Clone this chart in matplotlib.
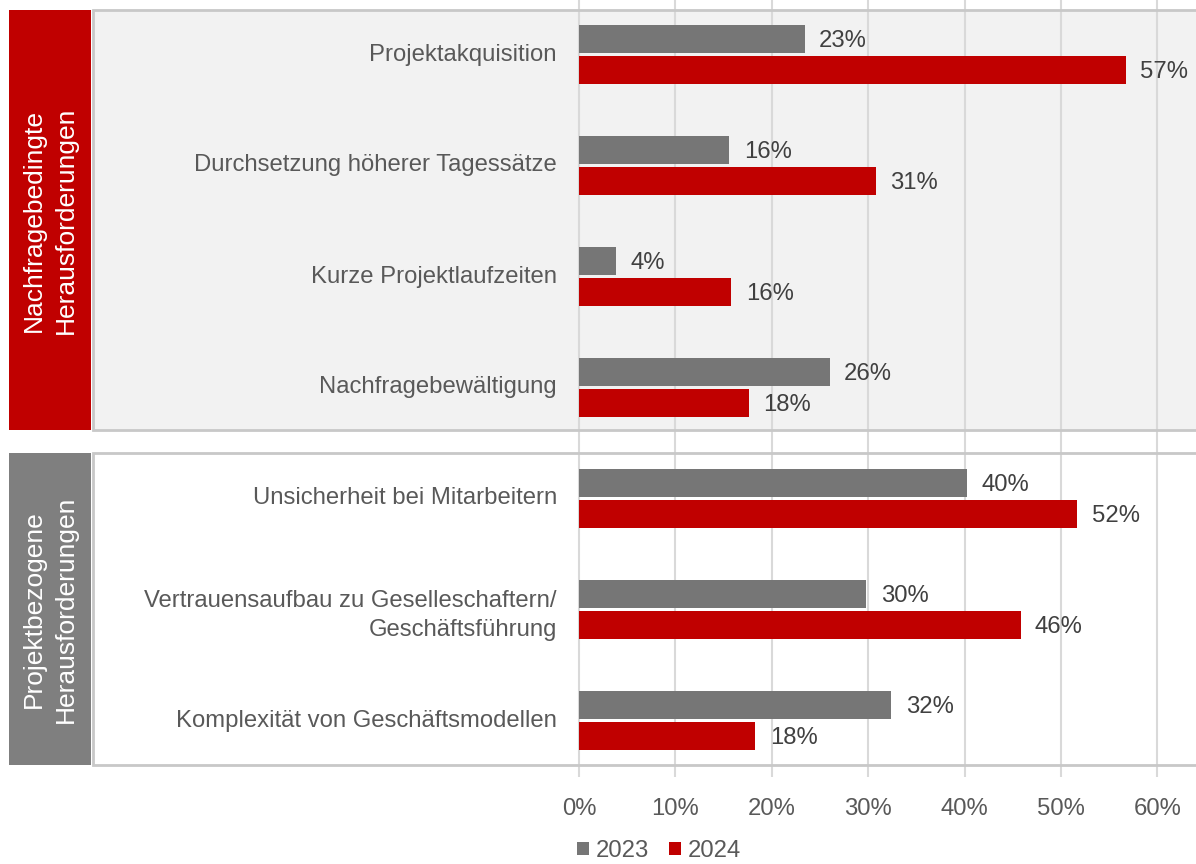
import matplotlib
matplotlib.use("Agg")
import matplotlib.pyplot as plt
from matplotlib.patches import Rectangle
import numpy as np

plt.rcParams['font.family'] = ['Liberation Sans', 'DejaVu Sans']

# Daten
kategorien = ["Projektakquisition",
              "Durchsetzung höherer Tagessätze",
              "Kurze Projektlaufzeiten",
              "Nachfragebewältigung",
              "Unsicherheit bei Mitarbeitern",
              "Vertrauensaufbau zu Geselleschaftern/\nGeschäftsführung",
              "Komplexität von Geschäftsmodellen"]
werte_2023 = [23.4, 15.6, 3.8, 26.0, 40.3, 29.8, 32.4]
werte_2024 = [56.7, 30.8, 15.8, 17.6, 51.7, 45.8, 18.3]
gruppen = ["Nachfragebedingte\nHerausforderungen", "Projektbezogene\nHerausforderungen"]
jahre = ["2023", "2024"]
ticks = [0, 10, 20, 30, 40, 50, 60]

ROT = "#c00000"
GRAU = "#767676"
GRID = "#d9d9d9"
RAND = "#c8c8c8"
FS = 17.2

W, H = 1196, 864
fig = plt.figure(figsize=(W / 100, H / 100), dpi=100)

# Achse: Pixelbereich x 93..1196, y 0..777 ; 0% liegt bei x=579, 10% = 96.4 px
px10 = 96.4
x0 = 579
ax_l, ax_r, ax_t, ax_b = 93, 1196, 0, 777
ax = fig.add_axes([ax_l / W, 1 - ax_b / H, (ax_r - ax_l) / W, (ax_b - ax_t) / H])
ax.set_xlim(-(x0 - ax_l) / px10 * 10, (ax_r - x0) / px10 * 10)

# y: Gruppenmitte i liegt bei 54.5 + 111*i px
def py(p):
    return (p - 54.5) / 111.0

ax.set_ylim(py(ax_b), py(ax_t))
for s in ax.spines.values():
    s.set_visible(False)
ax.set_facecolor("none")

# Panels (Hintergrund)
xl, xr = ax.get_xlim()
panels = [(10, 430, "#f2f2f2"), (453, 765, "white")]
for top, bot, fc in panels:
    ax.add_patch(Rectangle((xl, py(bot)), (xr - xl) + 5, py(top) - py(bot),
                           facecolor=fc, edgecolor="none", zorder=0, clip_on=False))

# Gitterlinien
for t in ticks:
    ax.plot([t, t], [py(ax_t), py(ax_b)], color=GRID, lw=1.5, zorder=1)

# Panelränder (oben, links, unten)
for top, bot, fc in panels:
    ax.plot([xr + 5, xl, xl, xr + 5], [py(top), py(top), py(bot), py(bot)],
            color=RAND, lw=2, zorder=1.5, clip_on=False, solid_joinstyle="miter")

# Balken
y = np.arange(len(kategorien))
h = 28 / 111.0
off = 15.5 / 111.0
ax.barh(y - off, werte_2023, height=h, color=GRAU, label=jahre[0], zorder=2)
ax.barh(y + off, werte_2024, height=h, color=ROT, label=jahre[1], zorder=2)

dy = 2 / 111.0
for yi, v in zip(y, werte_2023):
    ax.text(v + 1.5, yi - off + dy, f"{round(v)}%", va="center", ha="left",
            fontsize=FS, color="#404040", zorder=3)
for yi, v in zip(y, werte_2024):
    ax.text(v + 1.5, yi + off + dy, f"{round(v)}%", va="center", ha="left",
            fontsize=FS, color="#404040", zorder=3)

# Kategorien
for yi, k in zip(y, kategorien):
    versatz = 6 / 111.0 if "\n" in k else 0
    ax.text(-2.3, yi + versatz, k, ha="right", va="center", fontsize=FS,
            color="#595959", multialignment="right", linespacing=1.45, zorder=3)

# x-Achse
ax.set_xticks(ticks)
ax.set_xticklabels([f"{t}%" for t in ticks], fontsize=FS, color="#595959")
ax.tick_params(axis="x", length=0, pad=15)
ax.set_yticks([])

# Seitliche Gruppenboxen
for (top, bot, _), name, fc in zip(panels, gruppen, [ROT, "#7f7f7f"]):
    fig.patches.append(Rectangle((9 / W, 1 - bot / H), 82 / W, (bot - top) / H,
                                 transform=fig.transFigure, facecolor=fc,
                                 edgecolor="none"))
    fig.text(50 / W, 1 - (top + bot) / 2 / H, name, rotation=90, ha="center",
             va="center", fontsize=19, color="white", multialignment="center",
             linespacing=1.45)

# Legende
fig.legend(loc="center", bbox_to_anchor=(659 / W, 1 - 851 / H), ncol=2,
           frameon=False, fontsize=FS, handlelength=0.52, handleheight=0.52,
           handletextpad=0.3, columnspacing=0.8, labelcolor="#595959",
           borderpad=0.2)

fig.savefig("out.png", dpi=100)
